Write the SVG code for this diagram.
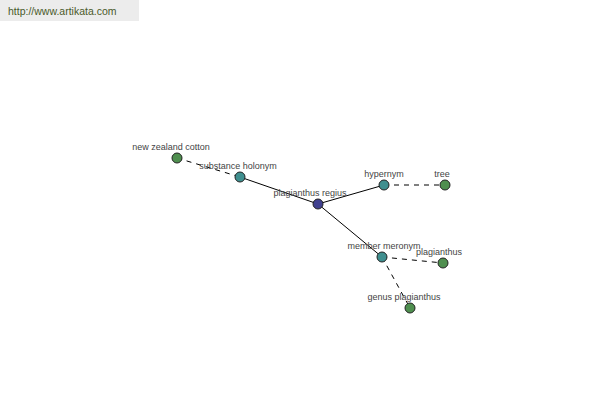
<svg xmlns="http://www.w3.org/2000/svg" width="600" height="400" viewBox="0 0 600 400">
<style>
.lbl{font-family:"Liberation Sans",Arial,sans-serif;font-size:9px;fill:#444;text-anchor:middle}
.solid{stroke:#000;stroke-width:1;fill:none}
.dash{stroke:#000;stroke-width:1;fill:none;stroke-dasharray:5,5}
.n{stroke:#222;stroke-width:1}
.g{fill:#4f8f4f}
.t{fill:#3f8f8f}
.b{fill:#40408f}
</style>
<rect x="0" y="0" width="600" height="400" fill="#fff"/>
<g id="header">
<rect x="0" y="0" width="139" height="21" fill="#ececec"/>
<text x="8" y="15" font-family="Liberation Sans,Arial,sans-serif" font-size="10.5" fill="#4a5a2a">http://www.artikata.com</text>
</g>
<g id="connectors">
<line class="dash" x1="177" y1="158" x2="240" y2="177"/>
<line class="solid" x1="240" y1="177" x2="318" y2="204"/>
<line class="solid" x1="318" y1="204" x2="384" y2="185"/>
<line class="solid" x1="318" y1="204" x2="382" y2="257"/>
<line class="dash" x1="384" y1="185" x2="445" y2="185"/>
<line class="dash" x1="382" y1="257" x2="443" y2="263"/>
<line class="dash" x1="382" y1="257" x2="410" y2="308"/>
</g>
<g id="new-zealand-cotton"><circle class="n g" cx="177" cy="158" r="5"/><text class="lbl" x="171" y="150">new zealand cotton</text></g>
<g id="substance-holonym"><circle class="n t" cx="240" cy="177" r="5"/><text class="lbl" x="238" y="169">substance holonym</text></g>
<g id="plagianthus-regius"><circle class="n b" cx="318" cy="204" r="5"/><text class="lbl" x="310" y="196">plagianthus regius</text></g>
<g id="hypernym"><circle class="n t" cx="384" cy="185" r="5"/><text class="lbl" x="384" y="177">hypernym</text></g>
<g id="tree"><circle class="n g" cx="445" cy="185" r="5"/><text class="lbl" x="442" y="177">tree</text></g>
<g id="member-meronym"><circle class="n t" cx="382" cy="257" r="5"/><text class="lbl" x="384" y="249">member meronym</text></g>
<g id="plagianthus"><circle class="n g" cx="443" cy="263" r="5"/><text class="lbl" x="439" y="255">plagianthus</text></g>
<g id="genus-plagianthus"><circle class="n g" cx="410" cy="308" r="5"/><text class="lbl" x="404" y="300">genus plagianthus</text></g>
</svg>
